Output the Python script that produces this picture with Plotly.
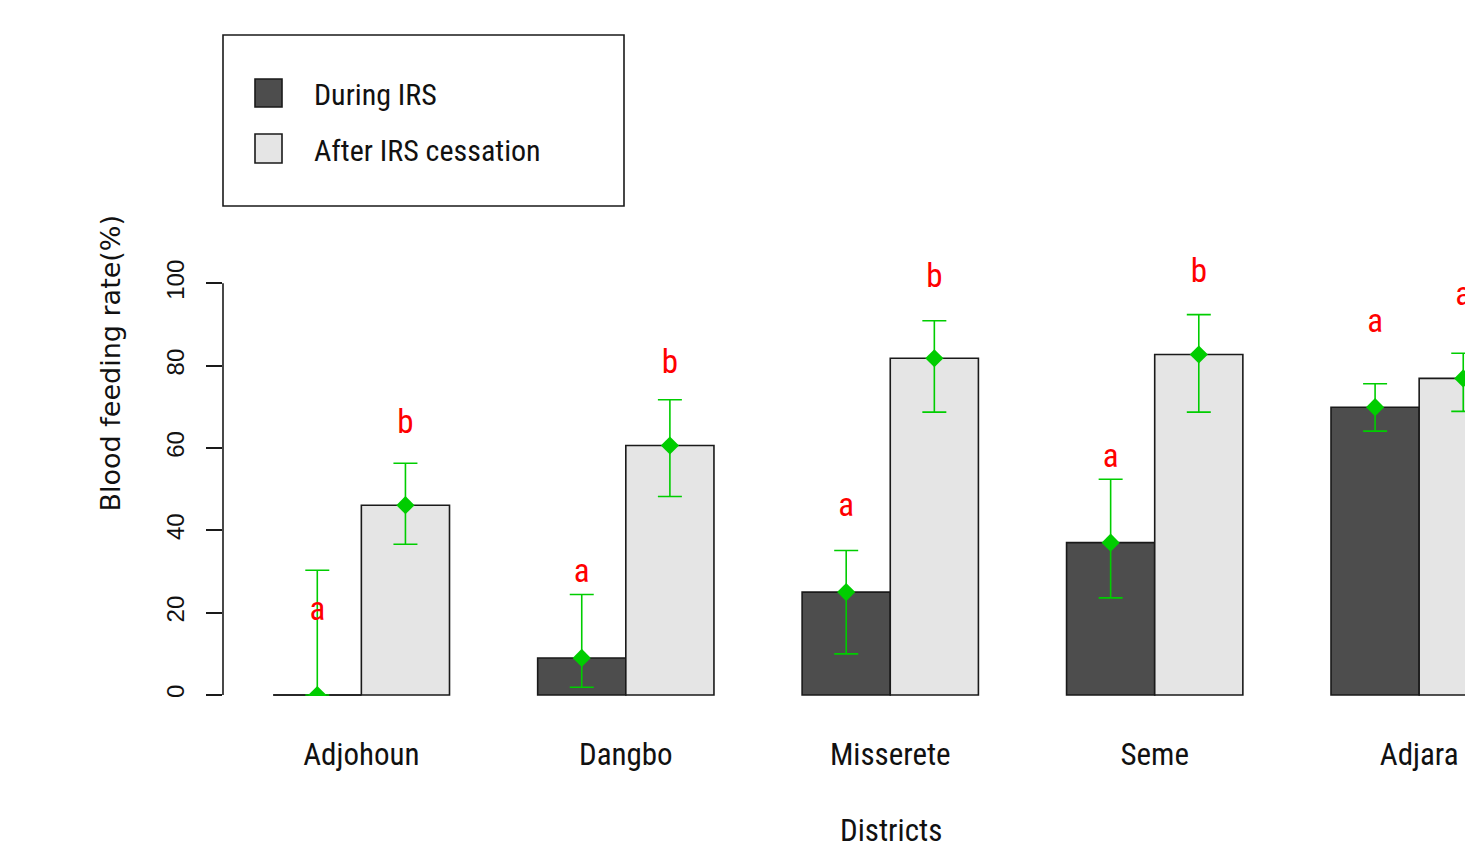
import plotly.graph_objects as go

# ---- data -------------------------------------------------------------
districts = ["Adjohoun", "Dangbo", "Misserete", "Seme", "Adjara"]

during = [0.0, 9.0, 25.0, 37.0, 69.9]
during_lo = [0.0, 1.9, 10.0, 23.6, 64.1]
during_hi = [30.3, 24.4, 35.1, 52.4, 75.6]

after = [46.1, 60.6, 81.8, 82.7, 76.9]
after_lo = [36.6, 48.2, 68.7, 68.7, 68.9]
after_hi = [56.3, 71.7, 90.9, 92.4, 83.0]

letters_during = ["a", "a", "a", "a", "a"]
letters_during_y = [20.2, 29.5, 45.5, 57.4, 90.2]
letters_after = ["b", "b", "b", "b", "a"]
letters_after_y = [65.7, 80.1, 101.2, 102.4, 96.8]

series_names = ["During IRS", "After IRS cessation"]
yticks = [0, 20, 40, 60, 80, 100]

# ---- styling / layout constants ---------------------------------------
DARK = "#4d4d4d"
LIGHT = "#e5e5e5"
GREEN = "#00cd00"
RED = "#ff0000"
EDGE = "#1a1a1a"
NARROW = "Liberation Sans Narrow, Roboto Condensed, Arial Narrow, Liberation Sans, sans-serif"
SANS = "Liberation Sans, Arial, sans-serif"

W, H = 1465, 851
ML, MR, MT, MB = 223, 0, 259, 155
PW, PH = W - ML - MR, H - MT - MB

X_SCALE = 88.3      # px per bar width
X_ORIGIN = 185.0    # pixel of x = 0
Y_SCALE = 4.117     # px per percent
Y_ZERO = 695.0      # pixel of y = 0

xmin = (ML - X_ORIGIN) / X_SCALE
xmax = max(xmin + PW / X_SCALE, 14.52)
ymin = -((MT + PH) - Y_ZERO) / Y_SCALE
ymax = ymin + PH / Y_SCALE


def pxx(x):
    return (x - ML) / PW


def pyy(y):
    return (MT + PH - y) / PH


# group centres: two unit-wide bars per group, one unit of space between groups
centres = [3 * i + 2 for i in range(len(districts))]
x_during = [c - 0.5 for c in centres]
x_after = [c + 0.5 for c in centres]

fig = go.Figure()

for xs, vals, col, name in [(x_during, during, DARK, series_names[0]),
                            (x_after, after, LIGHT, series_names[1])]:
    fig.add_trace(go.Bar(
        x=xs, y=vals, width=1, name=name,
        marker=dict(color=col, line=dict(color=EDGE, width=1.6)),
        showlegend=False,
    ))

# zero-height bars still show their outline as a flat line
for xs, vals in [(x_during, during), (x_after, after)]:
    for xv, v in zip(xs, vals):
        if v == 0:
            fig.add_trace(go.Scatter(
                x=[xv - 0.5, xv + 0.5], y=[v, v], mode="lines",
                line=dict(color=EDGE, width=1.6), showlegend=False,
                hoverinfo="skip",
            ))

# means with confidence limits
for xs, vals, lo, hi in [(x_during, during, during_lo, during_hi),
                         (x_after, after, after_lo, after_hi)]:
    fig.add_trace(go.Scatter(
        x=xs, y=vals, mode="markers",
        marker=dict(symbol="diamond", size=14, color=GREEN),
        error_y=dict(type="data", symmetric=False,
                     array=[h - v for h, v in zip(hi, vals)],
                     arrayminus=[v - l for v, l in zip(vals, lo)],
                     color=GREEN, thickness=1.6, width=12),
        showlegend=False,
    ))

# significance letters
for xs, labs, ys in [(x_during, letters_during, letters_during_y),
                     (x_after, letters_after, letters_after_y)]:
    fig.add_trace(go.Scatter(
        x=xs, y=ys, mode="text", text=labs, textposition="middle center",
        textfont=dict(family=NARROW, size=33, color=RED),
        cliponaxis=False, showlegend=False, hoverinfo="skip",
    ))

shapes = [
    # y axis line spanning the tick range only
    dict(type="line", xref="paper", yref="y", x0=0, x1=0,
         y0=yticks[0], y1=yticks[-1], line=dict(color=EDGE, width=1.6)),
    # legend frame
    dict(type="rect", xref="paper", yref="paper",
         x0=pxx(223), x1=pxx(624), y0=pyy(206), y1=pyy(35),
         line=dict(color=EDGE, width=1.6), fillcolor="white"),
    dict(type="rect", xref="paper", yref="paper",
         x0=pxx(255), x1=pxx(282), y0=pyy(107), y1=pyy(79),
         line=dict(color=EDGE, width=1.6), fillcolor=DARK),
    dict(type="rect", xref="paper", yref="paper",
         x0=pxx(255), x1=pxx(282), y0=pyy(163), y1=pyy(134),
         line=dict(color=EDGE, width=1.6), fillcolor=LIGHT),
]

annotations = [
    dict(text=series_names[0], xref="paper", yref="paper",
         x=pxx(312), y=pyy(94), xanchor="left", yanchor="middle",
         showarrow=False, font=dict(family=NARROW, size=30, color="#111")),
    dict(text=series_names[1], xref="paper", yref="paper",
         x=pxx(312), y=pyy(151), xanchor="left", yanchor="middle",
         showarrow=False, font=dict(family=NARROW, size=30, color="#111")),
    dict(text="Districts", xref="paper", yref="paper",
         x=pxx(890.5), y=pyy(830), xanchor="center", yanchor="middle",
         showarrow=False, font=dict(family=NARROW, size=31, color="#111")),
    dict(text="Blood feeding rate(%)", xref="paper", yref="paper",
         x=pxx(110), y=pyy(363.5), xanchor="center", yanchor="middle",
         textangle=-90, showarrow=False,
         font=dict(family="DejaVu Sans, sans-serif", size=27, color="#111")),
]

fig.update_layout(
    width=W, height=H,
    margin=dict(l=ML, r=MR, t=MT, b=MB, pad=0),
    paper_bgcolor="white", plot_bgcolor="white",
    barmode="overlay",
    showlegend=False,
    shapes=shapes,
    annotations=annotations,
    xaxis=dict(
        range=[xmin, xmax], showgrid=False, zeroline=False, showline=False,
        tickmode="array", tickvals=centres, ticktext=districts,
        ticks="", ticklabelstandoff=37,
        tickfont=dict(family=NARROW, size=31, color="#111"),
    ),
    yaxis=dict(
        range=[ymin, ymax], showgrid=False, zeroline=False, showline=False,
        tickmode="array", tickvals=yticks,
        ticks="outside", ticklen=16, tickwidth=1.6, tickcolor=EDGE,
        tickangle=-90, ticklabelstandoff=12,
        tickfont=dict(family=SANS, size=24, color="#111"),
    ),
)

fig.write_html("out.html")
